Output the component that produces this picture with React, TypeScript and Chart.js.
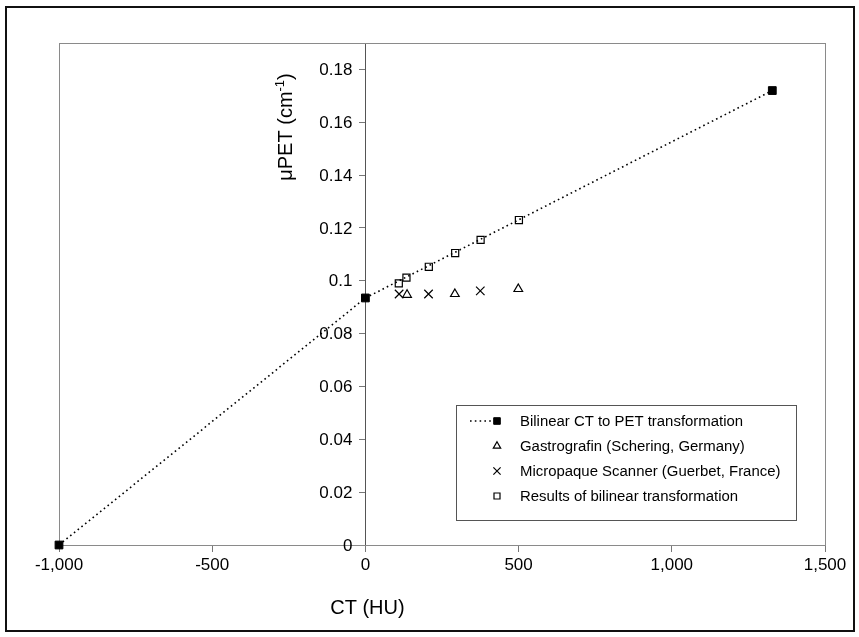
import React, { useEffect, useRef } from 'react';
import { Chart, registerables } from 'chart.js';
import { drawPoint } from 'chart.js/helpers';

Chart.register(...registerables);

// ---- data ----
const bilinearCT = [-1000, 0, 1328];
const bilinearMu = [0, 0.0935, 0.172];
const gastroCT = [136, 292, 499];
const gastroMu = [0.0947, 0.095, 0.0969];
const micropaqueCT = [110, 206, 375];
const micropaqueMu = [0.095, 0.095, 0.0962];
const resultsCT = [109, 134, 207, 293, 376, 501];
const resultsMu = [0.099, 0.1012, 0.1053, 0.1105, 0.1155, 0.123];

const xTicks = [-1000, -500, 0, 500, 1000, 1500];
const yTicks = [0, 0.02, 0.04, 0.06, 0.08, 0.1, 0.12, 0.14, 0.16, 0.18];

const seriesLabels = [
  'Bilinear CT to PET transformation',
  'Gastrografin (Schering, Germany)',
  'Micropaque Scanner (Guerbet, France)',
  'Results of bilinear transformation',
];
const xTitle = 'CT (HU)';
const yTitleMain = 'μPET (cm';
const yTitleSup = '-1';
const yTitleEnd = ')';

const FONT = '"Liberation Sans", Arial, Helvetica, sans-serif';
const NARROW = '"Liberation Sans Narrow", "Arial Narrow", "Liberation Sans", Arial, sans-serif';

const fmtY = (v: number) => String(Number(Number(v).toFixed(2)));
const toPts = (xs: number[], ys: number[]) => xs.map((x, i) => ({ x, y: ys[i] }));

const decorPlugin = {
  id: 'decor',
  beforeDraw(chart: any) {
    const ctx = chart.ctx;
    ctx.save();
    ctx.fillStyle = '#fff';
    ctx.fillRect(0, 0, chart.width, chart.height);
    ctx.restore();
  },
  beforeDatasetsDraw(chart: any) {
    const { ctx, chartArea: a } = chart;
    ctx.save();
    ctx.strokeStyle = '#8a8a8a';
    ctx.lineWidth = 1;
    ctx.strokeRect(Math.round(a.left) + 0.5, Math.round(a.top) + 0.5, Math.round(a.right - a.left), Math.round(a.bottom - a.top));
    ctx.restore();
  },
  afterDraw(chart: any) {
    const { ctx } = chart;
    const xs = chart.scales.x;
    const ys = chart.scales.y;
    const x0 = xs.getPixelForValue(0);
    ctx.save();
    // outer frame
    ctx.strokeStyle = '#111';
    ctx.lineWidth = 2;
    ctx.strokeRect(6, 7, 848, 624);

    // y tick labels, left of the y axis (which crosses at x = 0)
    ctx.fillStyle = '#000';
    ctx.font = `17px ${FONT}`;
    ctx.textAlign = 'right';
    ctx.textBaseline = 'middle';
    ys.ticks.forEach((t: any) => {
      ctx.fillText(fmtY(t.value), x0 - 13, ys.getPixelForValue(t.value) + 1);
    });

    // x title (centred under the zero of the x axis)
    ctx.font = `20px ${FONT}`;
    ctx.textAlign = 'center';
    ctx.textBaseline = 'middle';
    ctx.fillText(xTitle, x0 + 2, 608);

    // y title (rotated)
    ctx.save();
    ctx.translate(285, 127);
    ctx.rotate(-Math.PI / 2);
    ctx.font = `20px ${FONT}`;
    const w1 = ctx.measureText(yTitleMain).width;
    ctx.font = `13px ${FONT}`;
    const w2 = ctx.measureText(yTitleSup).width;
    ctx.font = `20px ${FONT}`;
    const w3 = ctx.measureText(yTitleEnd).width;
    const total = w1 + w2 + w3;
    let cx = -total / 2;
    ctx.textAlign = 'left';
    ctx.textBaseline = 'alphabetic';
    ctx.fillText(yTitleMain, cx, 7);
    cx += w1;
    ctx.font = `13px ${FONT}`;
    ctx.fillText(yTitleSup, cx, -1);
    cx += w2;
    ctx.font = `20px ${FONT}`;
    ctx.fillText(yTitleEnd, cx, 7);
    ctx.restore();

    // legend
    const lx = 456, ly = 405, lw = 340, lh = 115;
    ctx.fillStyle = '#fff';
    ctx.fillRect(lx, ly, lw, lh);
    ctx.strokeStyle = '#555';
    ctx.lineWidth = 1;
    ctx.strokeRect(lx + 0.5, ly + 0.5, lw, lh);
    ctx.font = `18px ${NARROW}`;
    const probe = ctx.measureText(seriesLabels[1]).width;
    const size = Math.max(12, Math.min(20, 18 * 225 / probe));
    ctx.font = `${size}px ${NARROW}`;
    ctx.textAlign = 'left';
    ctx.textBaseline = 'middle';
    chart.data.datasets.forEach((ds: any, i: number) => {
      const y = ly + 16 + i * 25;
      const mx = 497;
      if (ds.showLine) {
        ctx.save();
        ctx.strokeStyle = ds.borderColor;
        ctx.lineWidth = ds.borderWidth;
        ctx.setLineDash(ds.borderDash || []);
        ctx.beginPath();
        ctx.moveTo(470, y);
        ctx.lineTo(mx, y);
        ctx.stroke();
        ctx.restore();
      }
      ctx.save();
      ctx.strokeStyle = ds.pointBorderColor;
      ctx.fillStyle = ds.pointBackgroundColor;
      ctx.lineWidth = ds.pointBorderWidth;
      drawPoint(ctx, { pointStyle: ds.pointStyle, radius: ds.pointRadius * 0.85, rotation: 0, borderWidth: ds.pointBorderWidth }, mx, y);
      ctx.restore();
      ctx.fillStyle = '#000';
      ctx.fillText(ds.label, 520, y + 1);
    });
    ctx.restore();
  },
};

export default function App() {
  const ref = useRef<HTMLCanvasElement | null>(null);
  useEffect(() => {
    if (!ref.current) return;
    const chart = new Chart(ref.current, {
      type: 'scatter',
      data: {
        datasets: [
          {
            label: seriesLabels[0],
            data: toPts(bilinearCT, bilinearMu),
            showLine: true,
            clip: false,
            borderColor: '#000',
            borderWidth: 1.6,
            borderDash: [1.6, 3.2],
            pointStyle: 'rect',
            pointRadius: 5.5,
            pointBackgroundColor: '#000',
            pointBorderColor: '#000',
            pointBorderWidth: 1,
          },
          {
            label: seriesLabels[1],
            data: toPts(gastroCT, gastroMu),
            showLine: false,
            clip: false,
            pointStyle: 'triangle',
            pointRadius: 5,
            pointBackgroundColor: 'rgba(0,0,0,0)',
            pointBorderColor: '#000',
            pointBorderWidth: 1.2,
          },
          {
            label: seriesLabels[2],
            data: toPts(micropaqueCT, micropaqueMu),
            showLine: false,
            clip: false,
            pointStyle: 'crossRot',
            pointRadius: 6,
            pointBackgroundColor: 'rgba(0,0,0,0)',
            pointBorderColor: '#000',
            pointBorderWidth: 1.2,
          },
          {
            label: seriesLabels[3],
            data: toPts(resultsCT, resultsMu),
            showLine: false,
            clip: false,
            pointStyle: 'rect',
            pointRadius: 5,
            pointBackgroundColor: 'rgba(0,0,0,0)',
            pointBorderColor: '#000',
            pointBorderWidth: 1.2,
          },
        ],
      },
      options: {
        responsive: false,
        animation: false,
        devicePixelRatio: 1,
        layout: { padding: { left: 59, top: 43, right: 34, bottom: 92 } },
        plugins: { legend: { display: false }, tooltip: { enabled: false } },
        scales: {
          x: {
            type: 'linear',
            position: { y: 0 },
            min: -1000,
            max: 1500,
            afterBuildTicks: (s: any) => { s.ticks = xTicks.map((v) => ({ value: v })); },
            ticks: {
              callback: (v: any) => Number(v).toLocaleString('en-US'),
              color: '#000',
              font: { family: FONT, size: 17 },
              padding: 4,
              maxRotation: 0,
              autoSkip: false,
            },
            grid: { display: true, drawOnChartArea: false, drawTicks: true, tickLength: 6, color: '#777' },
            border: { display: true, color: '#333', width: 1 },
          },
          y: {
            type: 'linear',
            position: { x: 0 },
            min: 0,
            max: 0.19,
            afterBuildTicks: (s: any) => { s.ticks = yTicks.map((v) => ({ value: v })); },
            ticks: {
              display: false,
              callback: (v: any) => fmtY(v),
              autoSkip: false,
            },
            grid: { display: true, drawOnChartArea: false, drawTicks: true, tickLength: 6, color: '#777' },
            border: { display: true, color: '#555', width: 1 },
          },
        },
      },
      plugins: [decorPlugin],
    } as any);
    return () => chart.destroy();
  }, []);
  return (
    <div style={{ position: 'fixed', left: 0, top: 0, width: 859, height: 637 }}>
      <canvas ref={ref} width={859} height={637} style={{ display: 'block', width: 859, height: 637 }} />
    </div>
  );
}
